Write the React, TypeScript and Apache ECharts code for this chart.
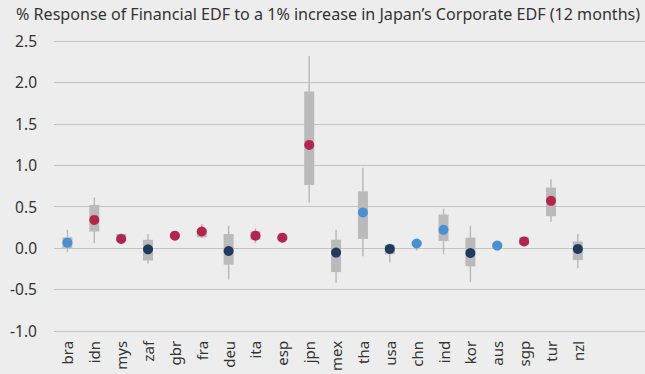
import React, { useEffect, useRef } from "react";
import * as echarts from "echarts";

const title = "% Response of Financial EDF to a 1% increase in Japan\u2019s Corporate EDF (12 months)";
const categories = ["bra", "idn", "mys", "zaf", "gbr", "fra", "deu", "ita", "esp", "jpn", "mex", "tha", "usa", "chn", "ind", "kor", "aus", "sgp", "tur", "nzl"];
const medians = [0.065, 0.34, 0.11, -0.015, 0.15, 0.2, -0.035, 0.15, 0.125, 1.245, -0.055, 0.43, -0.01, 0.055, 0.22, -0.06, 0.03, 0.08, 0.57, -0.01];
const boxLow = [0.0, 0.2, 0.08, -0.15, 0.13, 0.13, -0.2, 0.1, 0.1, 0.76, -0.29, 0.11, -0.075, 0.03, 0.085, -0.22, 0.0, 0.04, 0.385, -0.145];
const boxHigh = [0.13, 0.52, 0.17, 0.1, 0.18, 0.23, 0.17, 0.2, 0.15, 1.89, 0.1, 0.685, 0.04, 0.08, 0.405, 0.125, 0.06, 0.135, 0.73, 0.08];
const whiskerLow = [-0.05, 0.06, 0.07, -0.19, 0.12, 0.12, -0.38, 0.06, 0.09, 0.55, -0.42, -0.1, -0.17, -0.03, -0.075, -0.41, -0.03, 0.04, 0.315, -0.245];
const whiskerHigh = [0.22, 0.61, 0.18, 0.17, 0.19, 0.29, 0.27, 0.24, 0.16, 2.32, 0.22, 0.97, 0.055, 0.09, 0.475, 0.27, 0.08, 0.14, 0.83, 0.17];
const groups = ["blue", "red", "red", "navy", "red", "red", "navy", "red", "red", "red", "navy", "blue", "navy", "blue", "blue", "navy", "blue", "red", "red", "navy"];
const yTicks = [-1.0, -0.5, 0.0, 0.5, 1.0, 1.5, 2.0, 2.5];
const padCategories = ["", ""];

const groupColors: Record<string, string> = { red: "#b3254f", blue: "#4a8fd2", navy: "#1f3a5e" };

export default function App() {
  const ref = useRef<HTMLDivElement>(null);
  useEffect(() => {
    if (!ref.current) return;
    const chart = echarts.init(ref.current, undefined, { renderer: "svg" });
    const font = "'Noto Sans', sans-serif";
    const boxData = categories.map((_, i) => [i, whiskerLow[i], boxLow[i], boxHigh[i], whiskerHigh[i]]);
    chart.setOption({
      animation: false,
      backgroundColor: "#ededed",
      title: {
        text: title,
        left: 11,
        top: 1,
        textStyle: { fontFamily: font, fontSize: 16.1, fontWeight: "normal", color: "#333" },
      },
      grid: { left: 54, right: -4, top: 41, bottom: 37 },
      xAxis: {
        type: "category",
        data: [...categories, ...padCategories],
        axisLine: { show: false },
        axisTick: { show: false },
        axisLabel: { rotate: 90, margin: 10, fontFamily: font, fontSize: 15, color: "#333", interval: 0 },
        splitLine: { show: false },
      },
      yAxis: {
        type: "value",
        min: yTicks[0],
        max: yTicks[yTicks.length - 1],
        interval: 0.5,
        axisLine: { show: false },
        axisTick: { show: false },
        axisLabel: { fontFamily: font, fontSize: 15.5, color: "#333", margin: 17, formatter: (v: number) => v.toFixed(1) },
        splitLine: { lineStyle: { color: "#c3c3c3", width: 1 } },
      },
      series: [
        {
          type: "custom",
          data: boxData,
          renderItem: (params: any, api: any) => {
            const x = api.value(0);
            const wl = api.coord([x, api.value(1)]);
            const bl = api.coord([x, api.value(2)]);
            const bh = api.coord([x, api.value(3)]);
            const wh = api.coord([x, api.value(4)]);
            const w = 10;
            return {
              type: "group",
              children: [
                { type: "line", shape: { x1: wl[0], y1: wl[1], x2: wh[0], y2: wh[1] }, style: { stroke: "#b9bab9", lineWidth: 1.5 } },
                { type: "rect", shape: { x: bh[0] - w / 2, y: bh[1], width: w, height: bl[1] - bh[1] }, style: { fill: "#b9bab9" } },
              ],
            };
          },
          z: 1,
        },
        {
          type: "scatter",
          symbolSize: 10,
          itemStyle: { opacity: 1 },
          data: medians.map((v, i) => ({ value: [i, v], itemStyle: { color: groupColors[groups[i]], opacity: 1 } })),
          z: 2,
        },
      ],
    });
    return () => chart.dispose();
  }, []);
  return <div ref={ref} style={{ position: "fixed", left: 0, top: 0, width: 645, height: 374 }} />;
}
